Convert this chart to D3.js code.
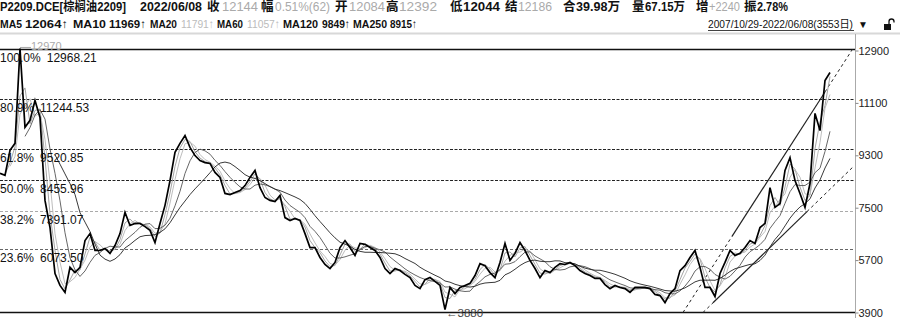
<!DOCTYPE html>
<html>
<head>
<meta charset="utf-8">
<script src="https://cdn.jsdelivr.net/npm/d3@7"></script>
<style>
  html, body { margin: 0; padding: 0; background: #fff; }
  svg { display: block; }
  text { font-family: "Liberation Sans", Arial, "Noto Sans CJK SC", sans-serif; }
</style>
</head>
<body>
<svg id="chart" width="900" height="318"></svg>
<script>
// P2209 palm oil, one close roughly every 21 trading days (2007/10/29 - 2022/06/08)
const closes = [
  8680, 8610, 9470, 9710, 12970, 10260, 10500, 11180, 10600, 7750,
  6820, 5240, 4830, 4590, 5450, 5270, 5450, 6370, 6610, 6030,
  6030, 6100, 5930, 6200, 6610, 7340, 6890, 6960, 6960, 6850,
  6720, 6300, 6960, 7580, 8430, 9400, 9710, 9980, 9570, 9290,
  9120, 9050, 9020, 8710, 8540, 7990, 7950, 8020, 8090, 8260,
  8540, 8780, 8190, 7850, 7750, 7710, 7920, 7160, 7060, 7130,
  7060, 6610, 6130, 6130, 5790, 5550, 5410, 5620, 6130, 6370,
  6130, 5860, 6270, 6240, 6130, 6030, 5790, 5410, 5240, 5410,
  5340, 5210, 5100, 4830, 4720, 5030, 5100, 4970, 4830, 4000,
  4760, 4550, 4760, 4830, 4900, 5170, 5580, 5510, 5270, 5100,
  5620, 6270, 5690, 5930, 6300, 6030, 5690, 5410, 5100, 5340,
  5270, 5450, 5580, 5550, 5620, 5510, 5340, 5240, 5170, 5070,
  5070, 4860, 4720, 4830, 4760, 4720, 4590, 4760, 4760, 4760,
  4720, 4520, 4480, 4240, 4550, 4720, 5340, 5510, 5790, 6030,
  5450, 4760, 4760, 4450, 5240, 5620, 6030, 5860, 5930, 6130,
  6370, 6270, 6820, 6960, 8190, 7510, 7640, 8780, 9220, 8430,
  7990, 7510, 8330, 10740, 10150, 11870, 12144
]
const tradingDays = 3553

const maPeriods = [20, 60, 120, 250]

const fibPercents = ["100.0%", "80.9%", "61.8%", "50.0%", "38.2%", "23.6%"]
const fibValues = [12968.21, 11244.53, 9520.85, 8455.96, 7391.07, 6073.50]

const axisTicks = [12900, 11100, 9300, 7500, 5700, 3900]

const highMark = { index: 4, price: 12970 }
const lowMark = { index: 89, price: 3880 }

// hand-drawn channel lines: [sample index, price] ends, solid part in between
const trendLines = [
  { from: [136.6, 3900], to: [170.6, 12970], solid: [146.4, 165] },
  { from: [140.6, 3900], to: [170.6, 8900], solid: [142.6, 161.4] }
]

const title = "P2209.DCE[棕榈油2209]"
const quoteDate = "2022/06/08"
const quoteLabels = ["收", "幅", "开", "高", "低", "结", "合", "量", "增", "振"]
const quoteValues = ["12144", "0.51%(62)", "12084", "12392", "12044", "12186", "39.98万", "67.15万", "+2240", "2.78%"]
const quoteMuted = [true, true, true, true, false, true, false, false, true, false]

const maLabels = ["MA5", "MA10", "MA20", "MA60", "MA120", "MA250"]
const maValues = ["12064↑", "11969↑", "11791↑", "11057↑", "9849↑", "8915↑"]
const maMuted = [false, false, true, true, false, false]

const rangeText = "2007/10/29-2022/06/08(3553日)"

// ---- layout
const svg = d3.select("#chart")
const axisX = 855
const x = d3.scaleLinear().domain([0, 171]).range([0, axisX])
const y = d3.scaleLinear().domain([3900, 12900]).range([312.5, 50.5])

// header text: [x, width] boxes
const quoteLabelX = [207, 261, 335, 386, 450, 505, 563, 632, 696, 744]
const quoteValueBox = [[222, 36], [275, 55], [349, 36], [399, 38], [463, 37], [518, 34], [576, 44], [645, 40], [709, 31], [757, 31]]
const maLabelBox = [[0, 22], [73, 33], [150, 27], [217, 26], [283, 35], [353, 34]]
const maValueBox = [[25, 43], [109, 37], [181, 33], [247, 33], [322, 28], [390, 27]]

function fitText(g, x0, w, yy, str, fill) {
  return g.append("text").attr("x", x0).attr("y", yy).attr("fill", fill)
    .attr("textLength", w).attr("lengthAdjust", "spacingAndGlyphs").text(str)
}

const head = svg.append("g").attr("font-size", 12.5).attr("font-weight", 600)
fitText(head, 0, 126, 11, title, "#111")
fitText(head, 140, 62, 11, quoteDate, "#111")
quoteLabels.forEach((l, i) => {
  head.append("text").attr("x", quoteLabelX[i]).attr("y", 11).attr("fill", "#111").text(l)
  fitText(head, quoteValueBox[i][0], quoteValueBox[i][1], 11, quoteValues[i], quoteMuted[i] ? "#aaa" : "#111")
    .attr("font-weight", quoteMuted[i] ? 400 : 600)
})

const head2 = svg.append("g").attr("font-size", 11.5).attr("font-weight", 600)
maLabels.forEach((l, i) => {
  fitText(head2, maLabelBox[i][0], maLabelBox[i][1], 28, l, "#111")
  fitText(head2, maValueBox[i][0], maValueBox[i][1], 28, maValues[i], maMuted[i] ? "#bbb" : "#111")
    .attr("font-weight", maMuted[i] ? 400 : 600)
})

fitText(head2, 708, 145, 28, rangeText, "#111").attr("font-size", 11).attr("font-weight", 400)
svg.append("line").attr("x1", 708).attr("x2", 854).attr("y1", 30.5).attr("y2", 30.5)
  .attr("stroke", "#111").attr("stroke-width", 0.8)
head2.append("text").attr("x", 858).attr("y", 28).attr("font-size", 10).attr("fill", "#111").text("▼")
// lock icon
svg.append("rect").attr("x", 884).attr("y", 24).attr("width", 7).attr("height", 6).attr("fill", "#111")
svg.append("path").attr("d", "M889,24 v-2.5 a2.5,2.5 0 0 1 5,0 v1")
  .attr("fill", "none").attr("stroke", "#111").attr("stroke-width", 1.3)

// separators
svg.append("line").attr("x1", 0).attr("x2", 900).attr("y1", 33.5).attr("y2", 33.5)
  .attr("stroke", "#d8d8d8").attr("stroke-width", 2)
svg.append("line").attr("x1", axisX + 0.5).attr("x2", axisX + 0.5).attr("y1", 34).attr("y2", 318)
  .attr("stroke", "#aaa")

// right axis
const axis = d3.axisRight(y).tickValues(axisTicks).tickSize(3).tickFormat(d3.format("d"))
const ag = svg.append("g").attr("transform", `translate(${axisX + 0.5},0)`).call(axis)
ag.select(".domain").remove()
ag.selectAll("line").attr("stroke", "#888")
ag.selectAll("text").attr("font-size", 11).attr("fill", "#222").attr("x", 3)
  .style("font-family", "Liberation Sans, Arial, sans-serif")

// fibonacci levels
const fibStyle = [
  { stroke: "#111", dash: null, w: 1.6 },
  { stroke: "#222", dash: "3,1.5", w: 1 },
  { stroke: "#222", dash: "3,1.5", w: 1 },
  { stroke: "#222", dash: "3,1.5", w: 1 },
  { stroke: "#aaa", dash: "3,2", w: 1 },
  { stroke: "#666", dash: "3,2", w: 1 }
]
const fib = svg.append("g")
fibValues.forEach((v, i) => {
  const yy = Math.round(y(v)) + 0.5
  fib.append("line").attr("x1", 0).attr("x2", axisX).attr("y1", yy).attr("y2", yy)
    .attr("stroke", fibStyle[i].stroke).attr("stroke-width", fibStyle[i].w)
    .attr("stroke-dasharray", fibStyle[i].dash)
})
// bottom frame
svg.append("line").attr("x1", 0).attr("x2", axisX).attr("y1", 312.5).attr("y2", 312.5)
  .attr("stroke", "#111").attr("stroke-width", 1.4)

// trend lines
const tl = svg.append("g")
trendLines.forEach(t => {
  const slope = (t.to[1] - t.from[1]) / (t.to[0] - t.from[0])
  const at = i => [i, t.from[1] + slope * (i - t.from[0])]
  const seg = (a, b, dash, w) => {
    const p = [at(a), at(b)]
    tl.append("line").attr("x1", x(p[0][0])).attr("y1", y(p[0][1]))
      .attr("x2", x(p[1][0])).attr("y2", y(p[1][1]))
      .attr("stroke", "#222").attr("stroke-width", w).attr("stroke-dasharray", dash)
  }
  seg(t.from[0], t.solid[0], "3,3", 1)
  seg(t.solid[0], t.solid[1], null, 1.2)
  seg(t.solid[1], t.to[0], "3,3", 1)
})

// moving averages
const daysPerSample = tradingDays / closes.length
const maStyle = ["#9a9a9a", "#b5b5b5", "#555", "#222"]
const line = d3.line().x(d => x(d[0])).y(d => y(d[1]))
maPeriods.forEach((p, k) => {
  const w = Math.max(2, Math.round(p / daysPerSample))
  const pts = []
  for (let i = w - 1; i < closes.length; i++) {
    pts.push([i, d3.mean(closes.slice(i - w + 1, i + 1))])
  }
  svg.append("path").attr("d", line(pts)).attr("fill", "none")
    .attr("stroke", maStyle[k]).attr("stroke-width", 0.9)
})

// price
svg.append("path").attr("d", line(closes.map((c, i) => [i, c])))
  .attr("fill", "none").attr("stroke", "#000").attr("stroke-width", 1.7)
  .attr("stroke-linejoin", "miter")

// fib labels
const fl = svg.append("g").attr("font-size", 12).attr("fill", "#111")
fibValues.forEach((v, i) => {
  const yy = Math.round(y(v)) + 12.5
  const t = fl.append("text").attr("x", 0).attr("y", yy).text(fibPercents[i])
  const wdt = t.node().getComputedTextLength()
  fl.append("text").attr("x", wdt + 6).attr("y", yy).text(v.toFixed(2))
})

// extreme marks
const hx = x(highMark.index), hy = y(highMark.price)
svg.append("line").attr("x1", hx).attr("x2", hx + 11).attr("y1", hy - 1).attr("y2", hy - 1)
  .attr("stroke", "#aaa")
svg.append("text").attr("x", hx + 11).attr("y", hy + 1.5).attr("font-size", 11)
  .attr("fill", "#aaa").text(highMark.price)
const lx = x(lowMark.index)
svg.append("text").attr("x", lx + 1).attr("y", 317).attr("font-size", 11.5)
  .attr("fill", "#444").text("←" + lowMark.price)
</script>
</body>
</html>
